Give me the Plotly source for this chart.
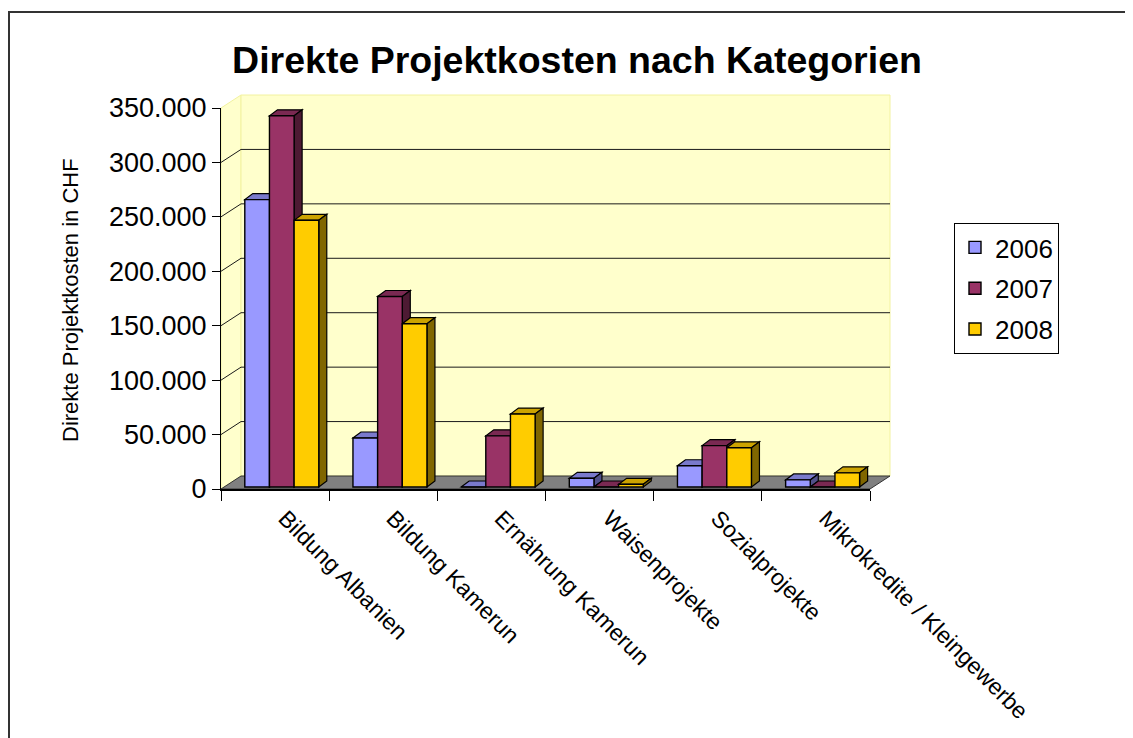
import plotly.graph_objects as go

# ---------------- data ----------------
categories = ["Bildung Albanien", "Bildung Kamerun", "Ernährung Kamerun",
              "Waisenprojekte", "Sozialprojekte", "Mikrokredite / Kleingewerbe"]
years = ["2006", "2007", "2008"]
values_2006 = [264000, 45000, 0, 8000, 19500, 6500]
values_2007 = [341000, 175000, 47000, 0, 38000, 0]
values_2008 = [245000, 150000, 67000, 2500, 36000, 13000]
y_ticks = [0, 50000, 100000, 150000, 200000, 250000, 300000, 350000]

series = [values_2006, values_2007, values_2008]
front_colors = ["#9999FF", "#993366", "#FFCC00"]
top_colors = ["#7A7ACC", "#7A2952", "#CCA300"]
side_colors = ["#50508A", "#4D1A33", "#806600"]

# ---------------- geometry ----------------
OFF = 8                      # page body margin
W, H = 1133 - OFF, 738 - OFF
L, T = 221 - OFF, 108 - OFF
PW, PH = 649, 381
R, B = W - L - PW, H - T - PH
NCAT = len(categories)
YMAX = y_ticks[-1]
PX_X = NCAT / PW
PX_Y = YMAX / PH

BAR_W = 0.228
FIRST = 0.22
DX, DY = 8 * PX_X, 6 * PX_Y
BASE = 2 * PX_Y
WX, WY = 20 / PW, 13 / PH


def px(xs):  # screen x -> paper x
    return (xs - OFF - L) / PW


def py(ys):  # screen y -> paper y
    return (T + PH - (ys - OFF)) / PH


fig = go.Figure()

shapes = []
shapes.append(dict(type="path", xref="paper", yref="paper", layer="below",
                   path=f"M 0,0 L {WX},{WY} L {WX},{1+WY} L 0,1 Z",
                   fillcolor="#FFFFCC", line=dict(color="#F2F2A0", width=1)))
shapes.append(dict(type="rect", xref="paper", yref="paper", layer="below",
                   x0=WX, y0=WY, x1=1 + WX, y1=1 + WY,
                   fillcolor="#FFFFCC", line=dict(color="#F2F2A0", width=1)))
shapes.append(dict(type="path", xref="paper", yref="paper", layer="below",
                   path=f"M 0,0 L 1,0 L {1+WX},{WY} L {WX},{WY} Z",
                   fillcolor="#808080", line=dict(color="#333333", width=1)))
for v in y_ticks[1:-1]:
    yy = v / YMAX
    shapes.append(dict(type="line", xref="paper", yref="paper", layer="below",
                       x0=WX, y0=yy + WY, x1=1 + WX, y1=yy + WY,
                       line=dict(color="#1a1a1a", width=1)))
    shapes.append(dict(type="line", xref="paper", yref="paper", layer="below",
                       x0=0, y0=yy, x1=WX, y1=yy + WY,
                       line=dict(color="#1a1a1a", width=1)))

for k, (year, vals) in enumerate(zip(years, series)):
    fig.add_trace(go.Bar(
        x=[i + 0.5 for i in range(NCAT)], y=vals, base=BASE,
        width=BAR_W, offset=-0.5 + FIRST + k * BAR_W,
        name=year, legendgroup=year,
        marker=dict(color=front_colors[k], line=dict(color="black", width=1.4)),
        hoverinfo="skip"))
    for i, v in enumerate(vals):
        x0 = i + FIRST + k * BAR_W
        x1 = x0 + BAR_W
        top = BASE + v
        shapes.append(dict(type="path", xref="x", yref="y", layer="below",
                           path=f"M {x0},{top} L {x1},{top} L {x1+DX},{top+DY} L {x0+DX},{top+DY} Z",
                           fillcolor=top_colors[k], line=dict(color="black", width=1.2)))
        shapes.append(dict(type="path", xref="x", yref="y", layer="below",
                           path=f"M {x1},{BASE} L {x1+DX},{BASE+DY} L {x1+DX},{top+DY} L {x1},{top} Z",
                           fillcolor=side_colors[k], line=dict(color="black", width=1.2)))

shapes.append(dict(type="rect", xref="paper", yref="paper", layer="above",
                   x0=px(9), y0=py(12), x1=px(1160), y1=py(760),
                   line=dict(color="#333333", width=2), fillcolor="rgba(0,0,0,0)"))

FONT = "Liberation Sans, Arial, sans-serif"

fig.update_layout(
    width=W, height=H,
    margin=dict(l=L, r=R, t=T, b=B, autoexpand=False),
    paper_bgcolor="white", plot_bgcolor="rgba(0,0,0,0)",
    barmode="overlay",
    separators=",.",
    shapes=shapes,
    title=dict(text="Direkte Projektkosten nach Kategorien",
               x=(577 - OFF) / W, xanchor="center", y=1 - (60 - OFF) / H, yanchor="middle",
               font=dict(family=FONT, size=37.5, color="black", weight="bold")),
    xaxis=dict(range=[0, NCAT], tickvals=[i + 0.5 for i in range(NCAT)], ticktext=categories,
               tickangle=45, ticks="", showgrid=False, zeroline=False,
               showline=True, linecolor="black", linewidth=1.5,
               ticklabelshift=10, ticklabelstandoff=5,
               tickfont=dict(family=FONT, size=23, color="black"),
               minor=dict(tickvals=list(range(NCAT + 1)), ticks="outside", ticklen=10,
                          tickcolor="black", tickwidth=1, showgrid=False)),
    yaxis=dict(range=[0, YMAX], tickvals=y_ticks, tickformat=",d",
               ticks="outside", ticklen=8, tickcolor="black",
               showgrid=False, zeroline=False,
               showline=True, linecolor="black", linewidth=1,
               tickfont=dict(family=FONT, size=27, color="black")),
    legend=dict(x=px(954), xanchor="left", y=py(223), yanchor="top",
                bordercolor="black", borderwidth=1, bgcolor="white",
                font=dict(family=FONT, size=26, color="black"),
                tracegroupgap=4, traceorder="grouped", itemwidth=30),
    annotations=[dict(text="Direkte Projektkosten in CHF", xref="paper", yref="paper",
                      x=px(70), y=py(300), showarrow=False,
                      textangle=-90, xanchor="center", yanchor="middle",
                      font=dict(family=FONT, size=22, color="black"))],
)

fig.write_html("out.html")
